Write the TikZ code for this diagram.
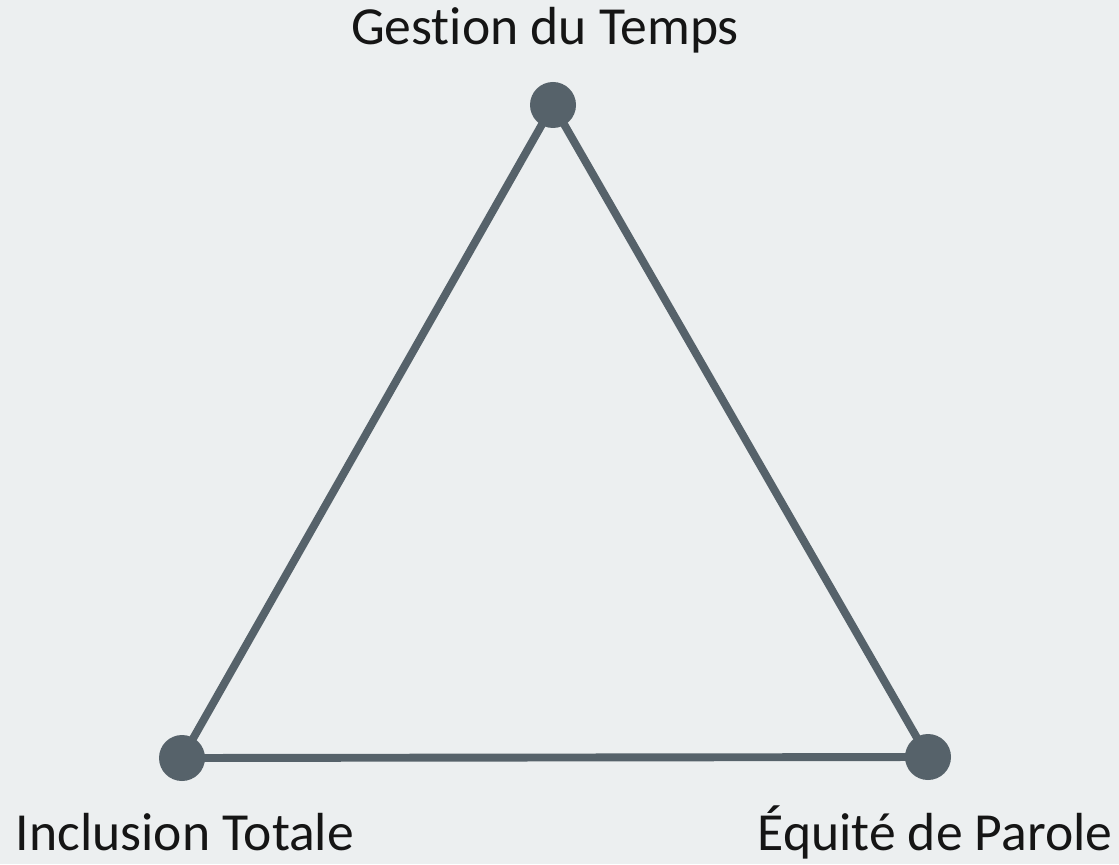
\documentclass[tikz,border=0pt]{standalone}
\usepackage{fontspec}
\setmainfont[Ligatures=NoCommon]{Carlito}
\usetikzlibrary{positioning}
\definecolor{edgegray}{HTML}{56626A}
\definecolor{bggray}{HTML}{ECEFF0}
\definecolor{txtblack}{HTML}{151515}
\pgfdeclarelayer{paper}
\pgfdeclarelayer{sides}
\pgfsetlayers{paper,sides,main}

\begin{document}
\begin{tikzpicture}[
  dot/.style={circle, fill=edgegray, minimum size=0.92cm, inner sep=0pt},
  side/.style={draw=edgegray, line width=4.5pt},
  lbl/.style={font=\fontsize{30.5}{34}\selectfont, text=txtblack, anchor=base, inner sep=0pt}
]
\begin{pgfonlayer}{paper}
\fill[bggray] (0,0) rectangle (22.38,17.28);
\end{pgfonlayer}
\useasboundingbox (0,0) rectangle (22.38,17.28);

%% ===== corners =====
\node[dot] (temps) at (11.06,15.18) {};
\node[dot] (incl) at (3.64,2.12) {};
\node[dot] (equite) at (18.56,2.14) {};

%% ===== sides =====
\begin{pgfonlayer}{sides}
\draw[side] (temps.center) -- (incl.center) -- (equite.center) -- cycle;
\end{pgfonlayer}

%% ===== labels =====
\node[lbl] (ltemps) at (10.9,16.38) {Gestion du Temps};
\node[lbl] (lincl) at (3.7,0.28) {Inclusion Totale};
\node[lbl] (lequite) at (18.7,0.28) {Équité de Parole};
\end{tikzpicture}
\end{document}
